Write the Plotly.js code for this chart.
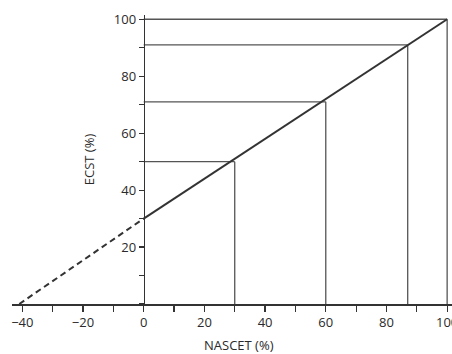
<!DOCTYPE html>
<html><head><meta charset="utf-8">
<script src="https://cdn.plot.ly/plotly-3.0.1.min.js"></script>
<style>html,body{margin:0;padding:0;background:#fff;overflow:hidden}#chart{width:452px;height:354px}</style>
</head><body><div id="chart"></div>
<script>
// Regression line (NASCET -> ECST)
const lineX = [0, 100];
const lineY = [30, 100];
// Extrapolated (dashed) part
const dashX = [-41, 0];
const dashY = [0, 30];
// Reference correspondences
const nascetPts = [30, 60, 87, 100];
const ecstPts = [50, 71, 91, 100];
const xTickVals = [-40, -20, 0, 20, 40, 60, 80, 100];
const yTickVals = [20, 40, 60, 80, 100];

const hx = [], hy = [], vx = [], vy = [];
nascetPts.forEach((n, i) => {
  hx.push(0, n, null); hy.push(ecstPts[i], ecstPts[i], null);
  vx.push(n, n, null); vy.push(0, ecstPts[i], null);
});

const xMin = -43.4, xMax = 101.6;
const traces = [
  {x: hx, y: hy, mode: 'lines', line: {color: '#555', width: 1.3}, hoverinfo: 'skip'},
  {x: vx, y: vy, mode: 'lines', line: {color: '#555', width: 1.3}, hoverinfo: 'skip'},
  {x: dashX, y: dashY, mode: 'lines', line: {color: '#333', width: 2, dash: '6px,4px'}},
  {x: lineX, y: lineY, mode: 'lines', line: {color: '#333', width: 2}}
];
const font = {family: 'Open Sans, sans-serif', size: 13, color: '#2a2a2a'};
const layout = {
  width: 452, height: 354,
  margin: {l: 12, r: 0, t: 15, b: 50},
  showlegend: false,
  paper_bgcolor: '#fff', plot_bgcolor: '#fff',
  font: font,
  xaxis: {
    range: [xMin, xMax], showgrid: false, zeroline: false,
    showline: true, linecolor: '#333', linewidth: 1.5,
    ticks: 'outside', ticklen: 6, tickcolor: '#333', tickwidth: 1.2,
    tickvals: xTickVals, tickfont: font, ticklabeloverflow: 'allow',
    minor: {dtick: 10, tick0: 0, ticks: 'outside', ticklen: 6, tickcolor: '#333', tickwidth: 1.2, showgrid: false}
  },
  yaxis: {
    range: [0, 101.5], showgrid: false, zeroline: false,
    anchor: 'free', position: (0 - xMin) / (xMax - xMin),
    showline: true, linecolor: '#333', linewidth: 1.5,
    ticks: 'outside', ticklen: 5, tickcolor: '#333', tickwidth: 1.2,
    tickvals: yTickVals, tickfont: font,
    minor: {dtick: 10, tick0: 0, ticks: 'outside', ticklen: 5, tickcolor: '#333', tickwidth: 1.2, showgrid: false},
    title: {text: 'ECST (%)', font: font, standoff: 14}
  },
  annotations: [{
    text: 'NASCET (%)', xref: 'paper', yref: 'paper', x: (239 - 12) / 440, y: -0.142,
    xanchor: 'center', yanchor: 'middle', showarrow: false, font: font
  }]
};
Plotly.newPlot('chart', traces, layout, {staticPlot: true, displayModeBar: false});
</script></body></html>
